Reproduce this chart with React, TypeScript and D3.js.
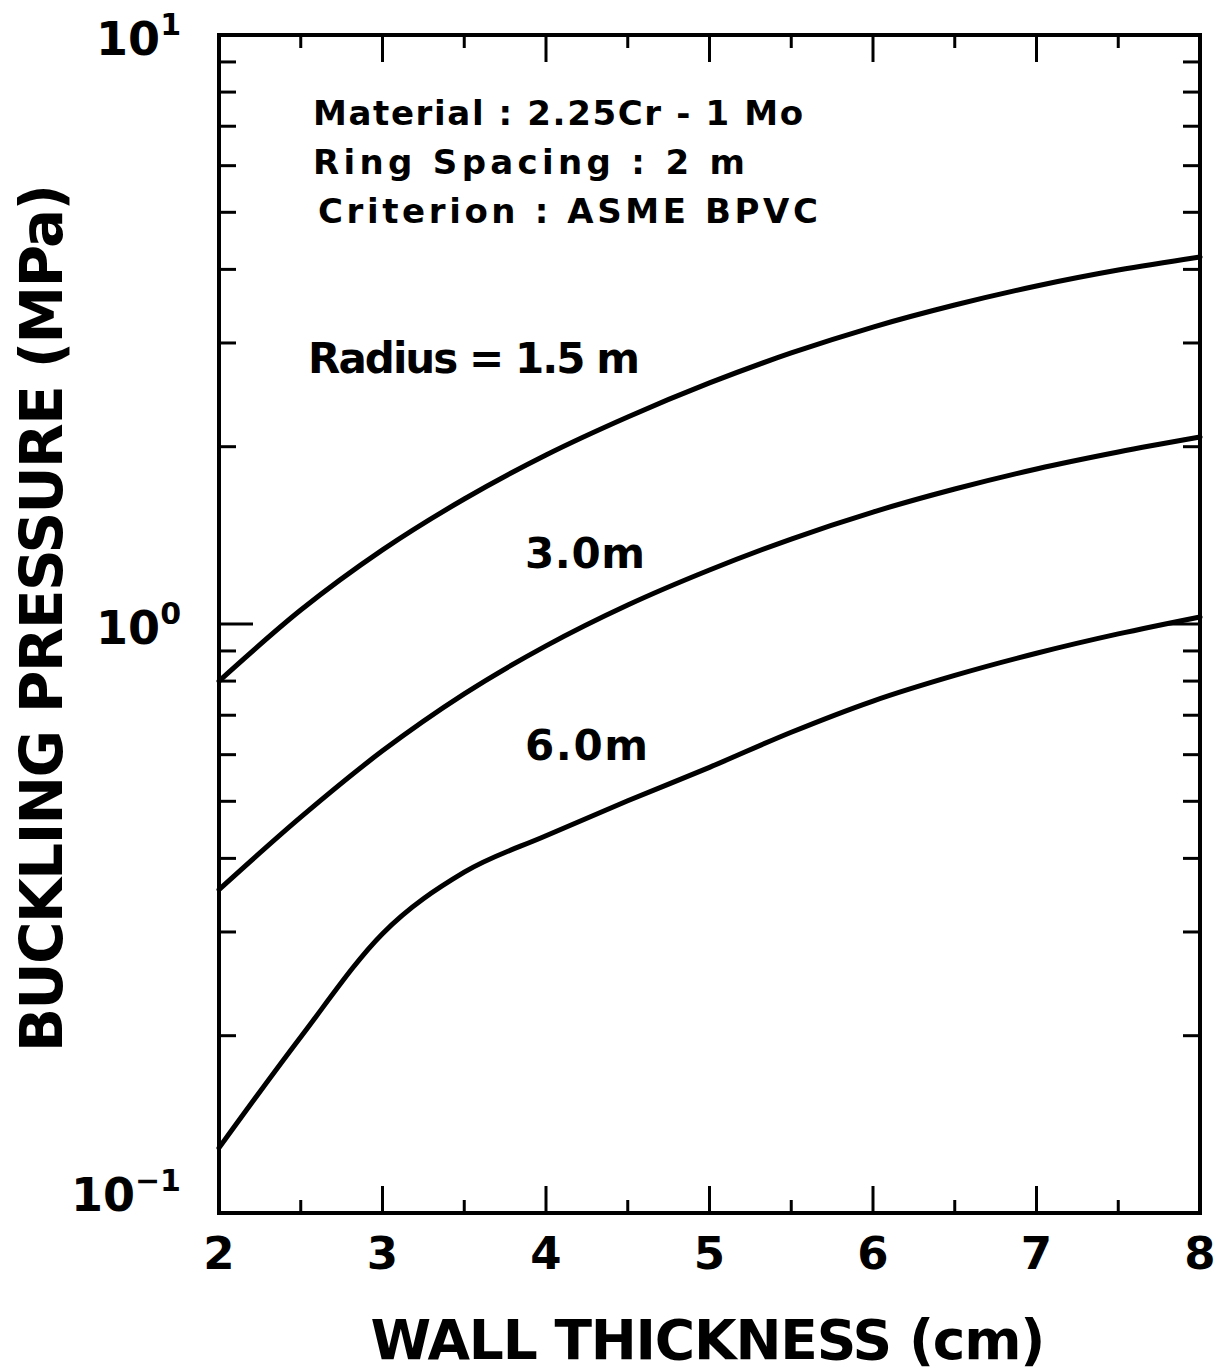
import { useEffect } from 'react';
import * as d3 from 'd3';

// wall thickness (cm)
const thickness = [2, 2.5, 3, 3.5, 4, 4.5, 5, 5.5, 6, 6.5, 7, 7.5, 8];
// buckling pressure (MPa) per radius
const radius15 = [0.800, 1.056, 1.336, 1.630, 1.936, 2.246, 2.566, 2.885, 3.193, 3.480, 3.749, 3.990, 4.200];
const radius30 = [0.354, 0.470, 0.609, 0.761, 0.918, 1.077, 1.235, 1.394, 1.549, 1.695, 1.833, 1.959, 2.077];
const radius60 = [0.129, 0.199, 0.298, 0.379, 0.437, 0.501, 0.571, 0.655, 0.740, 0.818, 0.892, 0.962, 1.028];

const xTicks = [2, 3, 4, 5, 6, 7, 8];
const xMinorTicks = [2.5, 3.5, 4.5, 5.5, 6.5, 7.5];
const yDecades = [0.1, 1, 10];
const yDecadeLabels = [['10', '\u22121'], ['10', '0'], ['10', '1']];

const infoLines = ['Material : 2.25Cr - 1 Mo', 'Ring  Spacing : 2 m', 'Criterion :  ASME  BPVC'];

const W = 1231;
const H = 1371;
const margin = { top: 35, right: 31, bottom: 158, left: 219 };
const FONT = '"DejaVu Sans", "Liberation Sans", sans-serif';

const App = () => {
  useEffect(() => {
    document.body.style.margin = '0';
  }, []);

  const x = d3.scaleLinear().domain([2, 8]).range([margin.left, W - margin.right]);
  const y = d3.scaleLog().domain([0.1, 10]).range([H - margin.bottom, margin.top]);
  const x0 = x.range()[0], x1 = x.range()[1];
  const yTop = y.range()[1], yBot = y.range()[0];

  const line = d3.line<number>()
    .x((_, i) => x(thickness[i]))
    .y(d => y(d))
    .curve(d3.curveMonotoneX);

  const series = [radius15, radius30, radius60];

  // log minor ticks 2..9 in each decade
  const yMinor: number[] = [];
  [0.1, 1].forEach(d => { for (let k = 2; k <= 9; k++) yMinor.push(d * k); });

  return (
    <svg width={W} height={H} style={{ display: 'block', background: '#fff' }} fontFamily={FONT}>
      {/* curves */}
      {series.map((s, i) => (
        <path key={i} d={line(s) || ''} fill="none" stroke="#000" strokeWidth={5} strokeLinecap="round" />
      ))}

      {/* frame */}
      <rect x={x0} y={yTop} width={x1 - x0} height={yBot - yTop} fill="none" stroke="#000" strokeWidth={4} />

      {/* x ticks, bottom and top, inward */}
      {xTicks.concat(xMinorTicks).map(t => {
        const len = xTicks.includes(t) ? 27 : 13;
        return (
          <g key={'xt' + t} stroke="#000" strokeWidth={3}>
            <line x1={x(t)} x2={x(t)} y1={yBot} y2={yBot - len} />
            <line x1={x(t)} x2={x(t)} y1={yTop} y2={yTop + len} />
          </g>
        );
      })}

      {/* y ticks, left and right, inward */}
      {yDecades.concat(yMinor).map(t => {
        const len = yDecades.includes(t) ? 34 : 17;
        return (
          <g key={'yt' + t} stroke="#000" strokeWidth={3}>
            <line x1={x0} x2={x0 + len} y1={y(t)} y2={y(t)} />
            <line x1={x1} x2={x1 - len} y1={y(t)} y2={y(t)} />
          </g>
        );
      })}

      {/* x tick labels */}
      {xTicks.map(t => (
        <text key={'xl' + t} x={x(t)} y={yBot + 56} textAnchor="middle" fontSize={45} fontWeight="bold">{t}</text>
      ))}

      {/* y tick labels */}
      {yDecades.map((t, i) => (
        <text key={'yl' + t} x={x0 - 38} y={Math.min(y(t) + 20, yBot - 2)} textAnchor="end" fontSize={46} fontWeight="bold">
          {yDecadeLabels[i][0]}
          <tspan dy={-20} fontSize={30}>{yDecadeLabels[i][1]}</tspan>
        </text>
      ))}

      {/* axis titles */}
      <text x={708} y={1359} textAnchor="middle" fontSize={55} fontWeight="bold" textLength={675} lengthAdjust="spacing">
        WALL THICKNESS (cm)
      </text>
      <text transform="translate(62,618) rotate(-90)" textAnchor="middle" fontSize={58} fontWeight="bold" textLength={868} lengthAdjust="spacing">
        BUCKLING PRESSURE (MPa)
      </text>

      {/* info block */}
      {infoLines.map((s, i) => (
        <text key={s} x={i === 2 ? 318 : 313} y={125 + i * 49} fontSize={34} fontWeight="bold"
          textLength={[490, 432, 500][i]} lengthAdjust="spacing">{s}</text>
      ))}

      {/* curve labels */}
      <text x={308} y={373} fontSize={42} fontWeight="bold" textLength={332} lengthAdjust="spacing">Radius = 1.5 m</text>
      <text x={525} y={568} fontSize={42} fontWeight="bold" textLength={120} lengthAdjust="spacing">3.0m</text>
      <text x={525} y={760} fontSize={42} fontWeight="bold" textLength={123} lengthAdjust="spacing">6.0m</text>
    </svg>
  );
};

export default App;
